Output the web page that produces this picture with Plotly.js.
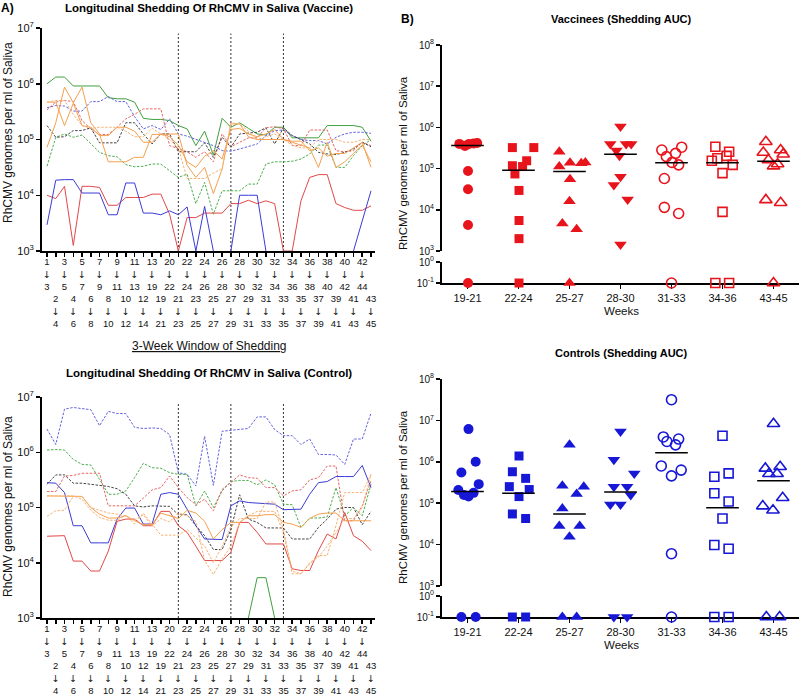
<!DOCTYPE html>
<html><head><meta charset="utf-8">
<script src="https://cdn.plot.ly/plotly-3.0.1.min.js"></script>
<style>html,body{margin:0;padding:0;background:#fff}#chart{width:800px;height:697px}
#chart .xtick text{opacity:0.999}</style>
</head><body><div id="chart"></div>
<script>
// ---------- Panel A: 3-week windows ----------
const windowStart = [1,2,3,4,5,6,7,8,9,10,11,12,13,19,20,21,22,23,24,25,26,27,28,29,30,31,32,33,34,35,36,37,38,39,40,41,42,43];
const windowEnd   = [3,4,5,6,7,8,9,10,11,12,13,14,19,21,22,23,24,25,26,27,28,29,30,31,32,33,34,35,36,37,38,39,40,41,42,43,44,45];
const windowMarks = ['21-23','27-29','33-35'];
const yTickExp = [3,4,5,6,7];

// log10(genomes/ml), Vaccine animals (null = below 10^3, not shown)
const vacGreenSolid = [6.0,6.12,6.12,5.96,5.96,5.96,5.96,5.75,5.73,5.73,5.67,5.38,5.36,5.36,5.34,5.25,5.19,4.89,5.15,4.72,5.38,5.22,5.3,5.2,5.1,5.08,5.22,5.22,5.03,5.03,5.03,5.03,5.25,5.25,5.25,5.25,5.22,4.97];
const vacGreenDash  = [4.52,5.04,5.10,5.04,5.08,4.92,4.77,4.71,4.69,4.55,4.51,4.52,4.56,4.56,4.44,4.32,4.38,3.85,4.23,3.66,4.08,4.08,4.08,4.2,4.2,4.56,4.6,4.6,4.61,4.65,4.74,4.9,4.9,4.5,4.5,4.71,4.89,5.0];
const vacRedSolid   = [4.0,3.94,4.16,3.1,4.16,4.16,4.14,3.82,3.82,3.96,3.96,3.96,4.02,4.02,3.66,3.0,3.6,3.6,3.68,3.68,3.68,3.85,3.85,3.91,3.85,3.9,3.85,3.0,3.0,3.9,4.32,4.37,4.37,3.85,3.78,3.73,3.73,3.81];
const vacBlueSolid  = [3.47,4.27,4.28,4.28,4.04,4.04,4.04,3.65,3.65,4.22,4.22,3.68,3.68,3.65,3.72,3.65,3.79,3.0,3.8,3.0,null,3.0,4.0,4.0,4.0,3.0,null,null,null,null,null,null,null,null,null,3.0,3.55,4.08];
const vacBlueDash   = [5.57,5.61,5.6,5.51,5.51,5.68,5.68,5.77,5.68,5.68,5.41,5.19,5.25,5.18,5.37,5.1,5.06,5.0,4.94,4.89,4.8,4.79,4.83,4.87,4.92,5.07,5.16,5.17,5.07,5.0,4.98,4.98,4.92,5.04,5.1,5.13,5.13,5.11];
const vacRedDash    = [5.53,5.67,5.7,5.68,5.34,5.19,5.09,5.09,5.22,5.37,5.45,5.55,5.55,5.55,4.89,4.84,4.78,4.68,4.78,4.6,5.1,4.87,4.95,5.03,5.03,5.21,5.23,5.19,4.89,4.89,5.17,5.17,5.17,4.8,4.78,4.8,4.95,4.89];
const vacBlack      = [5.25,5.04,5.05,5.16,5.16,5.21,4.94,4.94,4.94,5.3,5.3,5.1,4.92,5.1,5.1,4.78,4.78,4.78,4.94,4.68,5.04,4.86,5.1,5.12,5.13,5.21,4.92,5.21,5.07,5.0,4.92,4.77,4.74,4.73,4.77,4.83,4.95,4.87];
const vacOrangeA    = [4.86,5.3,5.94,5.66,5.94,5.3,5.1,4.6,4.6,4.6,4.68,4.68,5.09,5.09,5.1,5.1,4.54,4.32,4.5,4.03,4.47,5.28,5.28,5.05,5.0,5.0,5.0,5.0,4.95,4.9,4.85,4.5,4.95,4.5,4.6,4.75,4.9,4.6];
const vacOrangeB    = [5.67,5.67,5.25,5.65,5.25,5.22,5.07,5.07,5.22,5.22,5.15,4.95,4.95,5.1,5.05,4.9,4.6,4.5,4.7,4.8,4.65,5.18,5.2,5.1,5.05,5.1,5.18,5.0,4.97,4.97,4.8,4.85,4.7,4.75,4.75,4.85,4.95,4.5];
const vacOrangeDash = [5.67,5.7,5.7,5.45,5.25,5.2,5.22,5.22,5.22,5.15,5.05,5.05,5.2,5.1,5.0,4.85,4.3,4.3,4.3,4.4,4.48,5.3,5.28,5.15,5.0,5.05,5.1,5.0,4.9,4.85,4.85,5.0,5.0,5.0,4.95,4.95,5.0,5.0];

// log10(genomes/ml), Control animals
const ctlBlueDash   = [6.42,6.14,6.78,6.81,6.79,6.77,6.48,6.74,6.7,6.7,6.45,6.43,6.44,6.43,6.32,5.63,5.6,5.39,6.29,5.4,6.38,6.4,6.42,6.43,6.64,6.64,6.41,6.3,6.3,6.14,6.24,5.96,5.96,5.95,5.78,6.24,6.24,6.71];
const ctlGreenDash  = [6.04,6.05,6.04,5.87,5.78,5.77,5.51,5.24,5.24,5.3,5.54,5.8,5.72,5.71,5.63,5.6,5.6,5.03,5.3,5.0,5.3,5.47,5.49,5.49,5.41,5.5,5.41,5.06,5.05,4.64,4.81,4.81,4.83,5.36,4.85,5.0,4.85,5.42];
const ctlGreenSolid = [null,null,null,null,null,null,null,null,null,null,null,null,null,null,null,null,null,null,null,null,null,null,null,3.0,3.73,3.73,3.0,null,null,null,null,null,null,null,null,null,null,null];
const ctlRedDash    = [5.29,5.29,5.57,5.58,5.62,5.62,5.62,5.03,5.03,5.03,5.03,5.17,5.32,5.36,5.57,5.36,5.18,5.05,5.15,4.94,5.33,5.45,5.59,5.54,5.53,5.36,5.36,5.21,5.3,5.32,5.5,5.54,5.75,5.75,4.76,4.76,5.03,5.48];
const ctlBlack      = [5.42,5.59,5.59,5.44,5.44,5.42,5.41,5.38,5.34,5.24,5.03,5.01,5.03,5.02,5.02,4.87,4.87,4.67,4.49,4.24,4.24,4.6,5.23,4.79,4.73,4.63,4.63,4.63,4.43,4.43,4.43,4.64,4.79,4.97,5.0,5.0,4.69,4.93];
const ctlBlueSolid  = [5.45,5.44,5.27,4.67,4.67,4.36,4.36,4.36,4.79,4.99,4.99,4.7,4.7,5.24,5.27,5.24,4.97,4.67,4.43,4.42,4.42,5.03,5.12,5.09,5.08,5.06,5.06,4.96,4.96,4.97,5.24,5.45,5.47,5.56,5.56,5.56,5.76,5.36];
const ctlRedSolid   = [4.48,4.48,4.49,4.03,4.03,3.85,3.85,4.21,4.75,4.79,4.79,4.67,4.67,4.93,4.93,4.67,4.55,4.3,4.04,4.04,4.04,4.19,4.73,4.73,4.55,4.34,4.34,4.34,3.89,3.86,3.86,4.22,4.52,4.43,4.91,4.49,4.39,4.22];
const ctlOrangeA    = [5.21,5.21,5.21,5.21,5.2,5.0,4.88,4.81,4.81,4.85,4.76,4.69,4.69,4.9,4.85,4.8,4.95,4.9,4.75,4.43,4.6,4.73,4.73,4.85,4.85,4.87,4.87,4.73,4.7,4.64,4.8,4.88,4.9,4.9,4.76,4.76,4.76,4.76];
const ctlOrangeB    = [4.84,4.94,4.95,5.2,5.2,5.0,4.95,4.9,4.88,4.85,4.77,4.87,4.66,4.8,4.74,4.9,4.85,4.75,4.04,3.79,4.07,4.3,4.73,4.85,4.93,4.93,4.93,4.55,3.8,3.8,3.98,4.13,4.13,4.67,5.27,5.27,5.27,5.6];
const ctlOrangeC    = [5.21,5.21,5.21,5.21,5.15,4.95,4.82,4.77,4.77,4.86,4.7,4.9,4.7,4.5,4.5,4.5,4.6,4.45,4.3,4.0,4.3,4.65,4.8,4.8,4.8,5.1,5.1,4.6,3.85,3.8,4.0,4.1,4.3,4.55,4.8,4.8,5.0,5.6];

// ---------- Panel B: shedding AUC (log10; -1 = 10^-1 i.e. none) ----------
const aucWeeks = ['19-21','22-24','25-27','28-30','31-33','34-36','43-45'];
const aucTickExpUpper = [3,4,5,6,7,8];
const aucTickExpLower = [-1,0];
const vacAUC = [
  [5.6,5.55,5.6,5.61,5.62,4.94,4.5,3.63,-1],
  [5.51,5.51,5.19,5.07,5.05,4.87,4.47,3.74,3.3,-1],
  [5.41,5.14,5.13,5.15,5.05,4.74,4.21,3.67,3.53,-1],
  [6.02,5.6,5.6,5.6,5.44,5.31,4.8,4.6,4.25,3.16],
  [5.45,5.52,5.29,5.37,5.15,5.09,4.76,4.06,3.91,-1],
  [5.53,5.41,5.31,5.25,5.19,5.09,4.89,3.95,-1,-1],
  [5.65,5.45,5.39,5.35,5.21,5.11,5.06,4.24,4.17,-1]
];
const vacMedian = [5.56,4.96,4.93,5.35,5.14,5.14,5.18];
const ctlAUC = [
  [6.79,6.0,5.74,5.46,5.32,5.25,5.2,5.16,-1,-1],
  [6.14,5.76,5.6,5.4,5.33,5.16,4.74,4.63,-1,-1],
  [6.41,5.42,5.4,5.22,4.87,4.45,4.45,4.19,-1,-1],
  [6.73,6.05,5.72,5.4,5.4,5.2,4.97,4.97,-1,-1],
  [7.5,6.6,6.55,6.49,6.41,5.9,5.8,5.66,3.78,-1],
  [6.63,5.72,5.64,5.24,5.04,4.63,3.99,3.9,-1,-1],
  [6.92,5.88,5.84,5.71,5.71,5.13,4.93,4.83,-1,-1]
];
const ctlMedian = [5.28,5.24,4.74,5.27,6.22,4.89,5.54];
// horizontal scatter spread of points (category units)
const vacSpread = [
  [-0.16,-0.05,0.03,0.12,0.19,0.01,0.01,0.01,0.01],
  [-0.12,0.3,0.16,-0.12,0.08,-0.07,0.01,0.01,0.01,0.01],
  [-0.2,0.01,0.23,0.31,-0.2,0.01,0,-0.14,0.14,0],
  [0,-0.2,0.11,0.21,-0.08,-0.02,0,-0.13,0.14,0],
  [-0.19,0.2,-0.1,0.08,0.01,0.14,-0.14,-0.14,0.14,0],
  [-0.14,0.13,0.08,-0.1,-0.21,0.2,0,0,-0.14,0.13],
  [-0.15,0.14,-0.2,0.19,-0.1,0.08,0,-0.15,0.14,0]
];
const ctlSpread = [
  [0.02,0.16,-0.12,0.22,-0.18,0.12,-0.07,0.02,-0.12,0.16],
  [0.01,-0.12,0.14,-0.18,0.21,0.01,-0.12,0.14,-0.12,0.14],
  [0,-0.14,0.28,0.14,-0.14,-0.2,0.2,0,-0.14,0.14],
  [0,-0.13,0.27,-0.13,0.13,0.2,-0.2,0,-0.13,0.13],
  [0,-0.16,0.14,-0.09,0.08,-0.2,0.19,0,0,0],
  [0,0.12,-0.16,-0.16,0.12,0,-0.16,0.12,-0.16,0.12],
  [0,0.13,-0.16,-0.09,0.07,0.18,-0.21,-0.01,-0.14,0.12]
];

// ---------- styling ----------
const W = 800, H = 697;
const fx = p => p / W, fy = p => 1 - p / H;
const FONT = 'Liberation Sans, Arial, DejaVu Sans';
const DASH = '2.5px,1.5px';
const C = {green:'#3f9f3f', greenD:'#4cae4c', red:'#e24848', redD:'#e86464', blue:'#3b3bd6', blueD:'#6262e2', black:'#404040', orange:'#f4a04e', orangeD:'#f7b273'};
const vacStyles = [
  [vacGreenSolid, C.green, 'solid'], [vacGreenDash, C.greenD, DASH], [vacRedSolid, C.red, 'solid'],
  [vacBlueSolid, C.blue, 'solid'], [vacBlueDash, C.blueD, DASH], [vacRedDash, C.redD, DASH],
  [vacBlack, C.black, DASH], [vacOrangeA, C.orange, 'solid'], [vacOrangeB, C.orange, 'solid'],
  [vacOrangeDash, C.orangeD, DASH]
];
const ctlStyles = [
  [ctlBlueDash, C.blueD, DASH], [ctlGreenDash, C.greenD, DASH], [ctlGreenSolid, C.green, 'solid'],
  [ctlRedDash, C.redD, DASH], [ctlBlack, C.black, DASH], [ctlBlueSolid, C.blue, 'solid'],
  [ctlRedSolid, C.red, 'solid'], [ctlOrangeA, C.orange, 'solid'], [ctlOrangeB, C.orangeD, DASH],
  [ctlOrangeC, C.orangeD, DASH]
];
const symbols = ['circle','square','triangle-up','triangle-down','circle-open','square-open','triangle-up-open'];
const symSize = [10,9,11,11,10,9,11];

const idx = windowStart.map((_, i) => i);
const sp = '\u00a0';
const arrow = '<span style="font-family:DejaVu Sans">\u2193</span>';
const leftTickText = windowStart.map((s, i) => i % 2 === 0
  ? `${s}<br>${arrow}<br>${windowEnd[i]}`
  : `${sp}<br>${sp}<br>${sp}<br>${s}<br>${arrow}<br>${windowEnd[i]}`);
const expText = e => `10<sup>${e}</sup>`;

const traces = [];
function addLines(styles, xa, ya) {
  styles.forEach(([vals, color, dash]) => {
    traces.push({x: idx, y: vals, xaxis: xa, yaxis: ya, mode: 'lines', connectgaps: false,
      line: {color: color, width: 1, dash: dash}, hoverinfo: 'skip', cliponaxis: true});
  });
}
addLines(vacStyles, 'x', 'y');
addLines(ctlStyles, 'x2', 'y2');

function addAUC(groups, spread, medians, color, xa, yLow, yUp) {
  groups.forEach((vals, g) => {
    const ux = [], uy = [], lx = [], ly = [];
    vals.forEach((v, k) => {
      const xv = g + spread[g][k];
      if (v < 0) { lx.push(xv); ly.push(v); } else { ux.push(xv); uy.push(v); }
    });
    const open = symbols[g].endsWith('open');
    const mk = {symbol: symbols[g], size: symSize[g], color: color,
      line: {color: color, width: open ? 1.6 : 0}};
    traces.push({x: ux, y: uy, xaxis: xa, yaxis: yUp, mode: 'markers', marker: mk, cliponaxis: false, hoverinfo: 'skip'});
    traces.push({x: lx, y: ly, xaxis: xa, yaxis: yLow, mode: 'markers', marker: mk, cliponaxis: false, hoverinfo: 'skip'});
  });
  const mx = [], my = [];
  medians.forEach((m, g) => { mx.push(g - 0.32, g + 0.32, null); my.push(m, m, null); });
  traces.push({x: mx, y: my, xaxis: xa, yaxis: yUp, mode: 'lines', line: {color: '#000', width: 1.5}, hoverinfo: 'skip', cliponaxis: false});
}
addAUC(vacAUC, vacSpread, vacMedian, '#e8141c', 'x3', 'y3', 'y4');
addAUC(ctlAUC, ctlSpread, ctlMedian, '#1717d6', 'x4', 'y5', 'y6');

const baseAx = {showgrid: false, zeroline: false, showline: true, linecolor: '#000', linewidth: 2,
  ticks: 'outside', ticklen: 4, tickwidth: 1.5, tickcolor: '#000', fixedrange: true};
const leftX = (anchor) => Object.assign({}, baseAx, {domain: [fx(42), fx(375)], range: [-0.571, 37.457],
  tickmode: 'array', tickvals: idx, ticktext: leftTickText, tickangle: 0, ticklabelstandoff: -3,
  tickfont: {size: 9.5, color: '#111', family: FONT}, anchor: anchor});
const leftY = (top, bottom, anchor) => Object.assign({}, baseAx, {domain: [fy(bottom), fy(top)], range: [3, 7],
  tickmode: 'array', tickvals: yTickExp, ticktext: yTickExp.map(expText),
  tickfont: {size: 11, color: '#111', family: FONT}, anchor: anchor});
const rightX = (anchor) => Object.assign({}, baseAx, {domain: [fx(442), fx(799)], range: [-0.5, 6.5],
  tickmode: 'array', tickvals: aucWeeks.map((_, i) => i), ticktext: aucWeeks, tickangle: 0,
  tickfont: {size: 11, color: '#111', family: FONT}, anchor: anchor, layer: 'below traces'});
const rightYLow = (top, bottom, anchor) => Object.assign({}, baseAx, {domain: [fy(bottom), fy(top)], range: [-1, 0],
  tickmode: 'array', tickvals: aucTickExpLower, ticktext: aucTickExpLower.map(expText),
  tickfont: {size: 10, color: '#111', family: FONT}, anchor: anchor, layer: 'below traces'});
const rightYUp = (top, bottom, anchor) => Object.assign({}, baseAx, {domain: [fy(bottom), fy(top)], range: [3, 8],
  tickmode: 'array', tickvals: aucTickExpUpper, ticktext: aucTickExpUpper.map(expText),
  tickfont: {size: 10, color: '#111', family: FONT}, anchor: anchor});

const shapes = [];
['x', 'x2'].forEach((xr, p) => {
  windowMarks.forEach(lbl => {
    const i = windowStart.findIndex((s, k) => `${s}-${windowEnd[k]}` === lbl);
    shapes.push({type: 'line', xref: xr, yref: (p === 0 ? 'y' : 'y2') + ' domain', x0: i, x1: i, y0: 0, y1: 0.975,
      line: {color: '#333', width: 1, dash: '2px,2px'}, layer: 'below'});
  });
});

const ann = (text, x, y, opts) => Object.assign({text: text, x: fx(x), y: fy(y), xref: 'paper', yref: 'paper',
  showarrow: false, xanchor: 'center', yanchor: 'middle', font: {family: FONT, size: 12, color: '#111'}}, opts || {});
const annotations = [
  ann('<b>A)</b>', 7, 8, {font: {family: FONT, size: 12, color: '#000'}}),
  ann('<b>Longitudinal Shedding Of RhCMV in Saliva (Vaccine)</b>', 209, 8, {font: {family: FONT, size: 11.5, color: '#000'}}),
  ann('3-Week Window of Shedding', 209, 346, {font: {family: FONT, size: 12, color: '#111', lineposition: 'under'}}),
  ann('<b>Longitudinal Shedding Of RhCMV in Saliva (Control)</b>', 209, 373, {font: {family: FONT, size: 11.5, color: '#000'}}),
  ann('RhCMV genomes per ml of Saliva', 8, 133, {textangle: -90}),
  ann('RhCMV genomes per ml of Saliva', 8, 507, {textangle: -90}),
  ann('<b>B)</b>', 407, 19, {font: {family: FONT, size: 12, color: '#000'}}),
  ann('<b>Vaccinees (Shedding AUC)</b>', 621, 19, {font: {family: FONT, size: 11, color: '#000'}}),
  ann('Weeks', 621, 311, {font: {family: FONT, size: 11.5, color: '#111'}}),
  ann('<b>Controls (Shedding AUC)</b>', 621, 353, {font: {family: FONT, size: 11, color: '#000'}}),
  ann('Weeks', 621, 645, {font: {family: FONT, size: 11.5, color: '#111'}}),
  ann('RhCMV genomes per ml of Saliva', 403, 163, {textangle: -90, font: {family: FONT, size: 11.5, color: '#111'}}),
  ann('RhCMV genomes per ml of Saliva', 403, 497, {textangle: -90, font: {family: FONT, size: 11.5, color: '#111'}})
];

const layout = {
  width: W, height: H, margin: {l: 0, r: 0, t: 0, b: 0}, paper_bgcolor: '#fff', plot_bgcolor: 'rgba(0,0,0,0)',
  showlegend: false, font: {family: FONT, color: '#111'},
  xaxis: leftX('y'), yaxis: leftY(28, 251, 'x'),
  xaxis2: leftX('y2'), yaxis2: leftY(397, 618, 'x2'),
  xaxis3: rightX('y3'), yaxis3: rightYLow(262, 283, 'x3'), yaxis4: rightYUp(45, 251, 'x3'),
  xaxis4: rightX('y5'), yaxis5: rightYLow(596, 617, 'x4'), yaxis6: rightYUp(379, 586, 'x4'),
  shapes: shapes, annotations: annotations
};
Plotly.newPlot('chart', traces, layout, {staticPlot: true, displayModeBar: false});
</script></body></html>
